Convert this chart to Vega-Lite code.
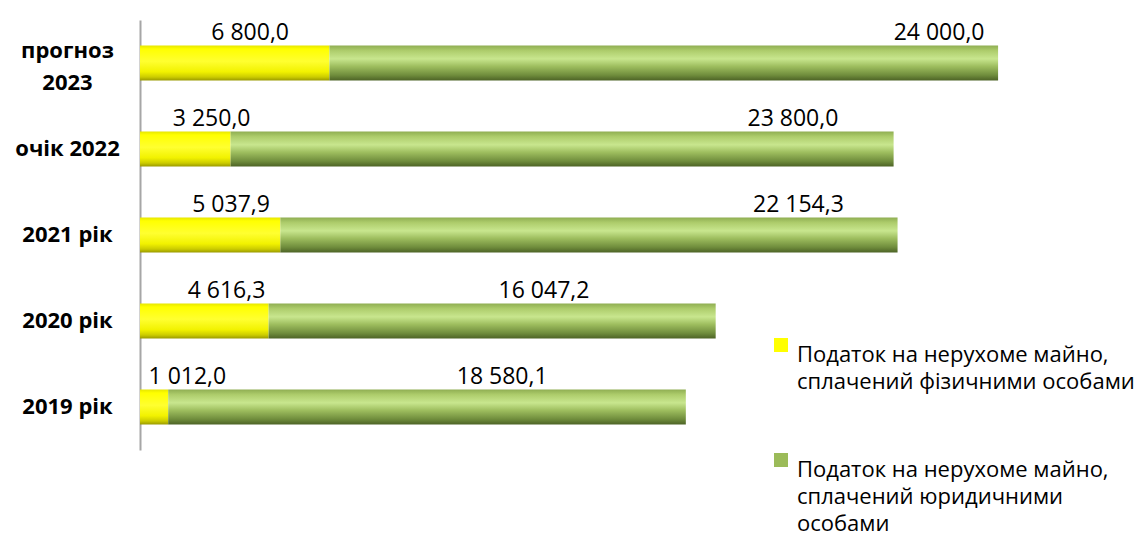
{
  "$schema": "https://vega.github.io/schema/vega-lite/v6.json",
  "width": 1000,
  "height": 430,
  "autosize": {"type": "none"},
  "padding": {"left": 140, "top": 20, "right": 7, "bottom": 88},
  "background": "white",
  "config": {
    "view": {"stroke": null},
    "locale": {"number": {"decimal": ",", "thousands": " ", "grouping": [3], "currency": ["", ""]}},
    "font": "Open Sans",
    "style": {"guide-label": {"lineHeight": 27}}
  },
  "data": {
    "values": [
      {"cat": "прогноз 2023", "series": "Податок на нерухоме майно, сплачений фізичними особами", "value": 6800.0},
      {"cat": "прогноз 2023", "series": "Податок на нерухоме майно, сплачений юридичними особами", "value": 24000.0},
      {"cat": "очік 2022", "series": "Податок на нерухоме майно, сплачений фізичними особами", "value": 3250.0},
      {"cat": "очік 2022", "series": "Податок на нерухоме майно, сплачений юридичними особами", "value": 23800.0},
      {"cat": "2021 рік", "series": "Податок на нерухоме майно, сплачений фізичними особами", "value": 5037.9},
      {"cat": "2021 рік", "series": "Податок на нерухоме майно, сплачений юридичними особами", "value": 22154.3},
      {"cat": "2020 рік", "series": "Податок на нерухоме майно, сплачений фізичними особами", "value": 4616.3},
      {"cat": "2020 рік", "series": "Податок на нерухоме майно, сплачений юридичними особами", "value": 16047.2},
      {"cat": "2019 рік", "series": "Податок на нерухоме майно, сплачений фізичними особами", "value": 1012.0},
      {"cat": "2019 рік", "series": "Податок на нерухоме майно, сплачений юридичними особами", "value": 18580.1}
    ]
  },
  "transform": [
    {"stack": "value", "groupby": ["cat"], "sort": [{"field": "series", "order": "ascending"}], "as": ["v0", "v1"]}
  ],
  "encoding": {
    "y": {
      "field": "cat",
      "type": "nominal",
      "sort": ["прогноз 2023", "очік 2022", "2021 рік", "2020 рік", "2019 рік"],
      "scale": {"paddingInner": 0.593, "paddingOuter": 0.2965},
      "axis": {
        "title": null,
        "domainColor": "#A6A6A6",
        "domainWidth": 2,
        "ticks": false,
        "tickSize": 0,
        "labelFont": "Open Sans",
        "labelFontWeight": "bold",
        "labelFontSize": 22,
        "labelColor": "black",
        "labelAlign": "center",
        "labelPadding": 73,
        "labelLineHeight": 32,
        "labelOffset": {"condition": {"test": "datum.value == 'прогноз 2023'", "value": -12}, "value": 0},
        "labelExpr": "datum.value == 'прогноз 2023' ? ['прогноз', '2023'] : datum.value"
      }
    }
  },
  "layer": [
    {
      "mark": {"type": "bar", "opacity": 0},
      "encoding": {
        "x": {"field": "v0", "type": "quantitative", "scale": {"domain": [0, 35894], "nice": false, "zero": false}, "axis": null},
        "x2": {"field": "v1"},
        "color": {
          "field": "series",
          "type": "nominal",
          "scale": {"range": ["#FFFF00", "#9BBB59"]},
          "legend": {
            "title": null,
            "orient": "none",
            "legendX": 630,
            "legendY": 314,
            "symbolType": "square",
            "symbolSize": 196,
            "symbolOpacity": 1,
            "symbolStrokeWidth": 0,
            "labelFont": "Open Sans",
            "labelFontSize": 22,
            "labelColor": "black",
            "labelLimit": 500,
            "labelOffset": 5,
            "labelBaseline": "top",
            "rowPadding": 56,
            "labelExpr": "indexof(datum.label, 'фізичними') >= 0 ? ['Податок на нерухоме майно,', 'сплачений фізичними особами'] : ['Податок на нерухоме майно,', 'сплачений юридичними', 'особами']"
          }
        }
      }
    },
    {
      "transform": [{"filter": "indexof(datum.series, 'фізичними') >= 0"}],
      "mark": {
        "type": "bar",
        "color": {
          "gradient": "linear", "x1": 0, "y1": 0, "x2": 0, "y2": 1,
          "stops": [
            {"offset": 0, "color": "#E6E600"},
            {"offset": 0.1, "color": "#FFFF00"},
            {"offset": 0.45, "color": "#FFFF30"},
            {"offset": 0.75, "color": "#F2F200"},
            {"offset": 0.9, "color": "#CCCC00"},
            {"offset": 1, "color": "#9A9A00"}
          ]
        }
      },
      "encoding": {
        "x": {"field": "v0", "type": "quantitative", "scale": {"domain": [0, 35894], "nice": false, "zero": false}, "axis": null},
        "x2": {"field": "v1"}
      }
    },
    {
      "transform": [{"filter": "indexof(datum.series, 'юридичними') >= 0"}],
      "mark": {
        "type": "bar",
        "color": {
          "gradient": "linear", "x1": 0, "y1": 0, "x2": 0, "y2": 1,
          "stops": [
            {"offset": 0, "color": "#8FAE52"},
            {"offset": 0.15, "color": "#AECD6C"},
            {"offset": 0.38, "color": "#C8E68E"},
            {"offset": 0.6, "color": "#9DBD5E"},
            {"offset": 0.85, "color": "#6F8C3C"},
            {"offset": 1, "color": "#4D6326"}
          ]
        }
      },
      "encoding": {
        "x": {"field": "v0", "type": "quantitative", "scale": {"domain": [0, 35894], "nice": false, "zero": false}, "axis": null},
        "x2": {"field": "v1"}
      }
    },
    {
      "transform": [{"filter": "indexof(datum.series, 'фізичними') >= 0"}],
      "mark": {"type": "text", "font": "Open Sans", "fontSize": 23, "color": "black", "align": "center", "baseline": "alphabetic", "dy": -23.5},
      "encoding": {
        "x": {"field": "value", "type": "quantitative", "scale": {"domain": [-3355, 88811], "nice": false, "zero": false}, "axis": null},
        "text": {"field": "value", "type": "quantitative", "format": ",.1f"}
      }
    },
    {
      "transform": [{"filter": "indexof(datum.series, 'юридичними') >= 0"}],
      "mark": {"type": "text", "font": "Open Sans", "fontSize": 23, "color": "black", "align": "center", "baseline": "alphabetic", "dy": -23.5},
      "encoding": {
        "x": {"field": "v1", "type": "quantitative", "scale": {"domain": [10300, 35954], "nice": false, "zero": false}, "axis": null},
        "text": {"field": "value", "type": "quantitative", "format": ",.1f"}
      }
    }
  ],
  "resolve": {"scale": {"x": "independent"}}
}
